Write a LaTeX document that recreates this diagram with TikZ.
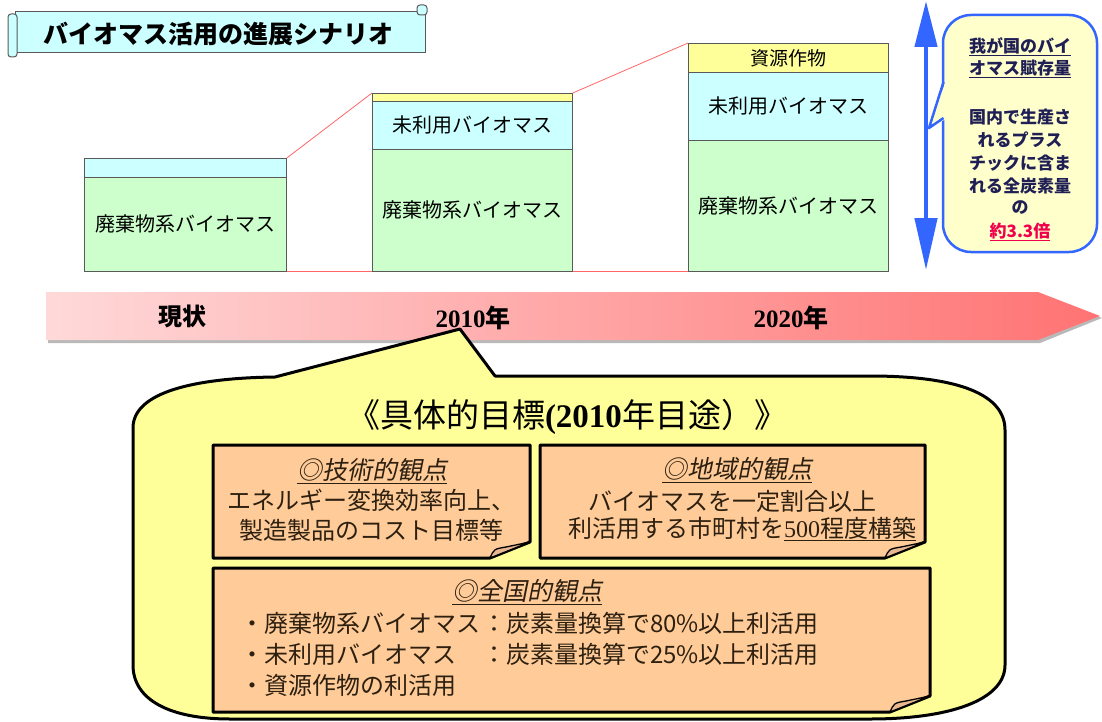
\documentclass[tikz,border=0pt]{standalone}
\usepackage{fontspec}
\setmainfont{Noto Sans CJK JP}
\newfontfamily\jpit{Noto Sans CJK JP}[FakeSlant=0.2]
\newfontfamily\serifnum{Liberation Serif}
\usetikzlibrary{arrows.meta}
\definecolor{cyanfill}{HTML}{CCFFFF}
\definecolor{greenfill}{HTML}{CCFFCC}
\definecolor{yellowband}{HTML}{FFFF99}
\definecolor{calloutyellow}{HTML}{FFFF99}
\definecolor{orangefill}{HTML}{FFCC99}
\definecolor{flapfill}{HTML}{E8B690}
\definecolor{bluearrow}{HTML}{3366FF}
\definecolor{lightyellow}{HTML}{FFFFCC}
\definecolor{redline}{HTML}{FF6666}
\definecolor{pinkL}{HTML}{FFD9D9}
\definecolor{pinkR}{HTML}{FF7373}
\definecolor{navytext}{HTML}{1F1F55}
\definecolor{hotred}{HTML}{F0004C}
\definecolor{browntext}{HTML}{2E2010}
\newcommand\foldbox[4]{%
  \draw[obox] (#1,#2) -- (#3,#2) -- (#3,#4-16) -- (#3-40,#4) -- (#1,#4) -- cycle;
  \filldraw[fill=flapfill, draw=black, line width=1.3pt, line join=round]
    (#3-40,#4) .. controls (#3-36,#4-9) .. (#3-24,#4-11) -- (#3,#4-16) -- cycle;}
\begin{document}
\begin{tikzpicture}[x=1pt,y=-1pt,
  band/.style={draw=gray!70!black, line width=0.8pt, anchor=north west, inner sep=0pt,
    font=\fontsize{20}{24}\selectfont},
  obox/.style={draw=black, line width=3pt, fill=orangefill, line join=round},
  otitle/.style={font=\fontsize{25}{28}\selectfont\jpit, text=browntext, inner sep=0pt},
  obody/.style={font=\fontsize{24}{28}\selectfont, text=browntext, inner sep=0pt},
  ctext/.style={font=\fontsize{17}{20}\selectfont\bfseries, text=navytext, inner sep=0pt},
  tlabel/.style={font=\fontsize{25}{28}\selectfont\bfseries, inner sep=0pt},
  conn/.style={draw=redline, line width=0.8pt}]
\useasboundingbox (0,0) rectangle (1102,722);
\fill[white] (0,0) rectangle (1102,722);

% title banner
\draw[gray!70!black, line width=1pt, fill=cyanfill] (15,12) rectangle (425,53);
\draw[gray!70!black, line width=1pt, fill=cyanfill, rounded corners=3pt] (8,14) rectangle (17,57);
\draw[gray!70!black, line width=1pt, fill=cyanfill, rounded corners=3pt] (417,5) rectangle (427,15);
\node[font=\fontsize{25}{28}\selectfont\bfseries, inner sep=0pt] (title) at (218,34) {バイオマス活用の進展シナリオ};

% top stacked boxes
\node[band, fill=cyanfill, minimum width=202pt, minimum height=19pt] (b1c) at (84,158) {};
\node[band, fill=greenfill, minimum width=202pt, minimum height=94pt] (b1g) at (84,177) {廃棄物系バイオマス};

\node[band, fill=yellowband, minimum width=200pt, minimum height=8pt] (b2y) at (372,93) {};
\node[band, fill=cyanfill, minimum width=200pt, minimum height=48pt] (b2c) at (372,101) {未利用バイオマス};
\node[band, fill=greenfill, minimum width=200pt, minimum height=122pt] (b2g) at (372,149) {廃棄物系バイオマス};

\node[band, fill=yellowband, minimum width=200pt, minimum height=29pt, font=\fontsize{19}{22}\selectfont] (b3y) at (688,43) {資源作物};
\node[band, fill=cyanfill, minimum width=200pt, minimum height=68pt] (b3c) at (688,72) {未利用バイオマス};
\node[band, fill=greenfill, minimum width=200pt, minimum height=131pt] (b3g) at (688,140) {廃棄物系バイオマス};

\draw[conn] (b1c.north east) -- (b2y.north west);
\draw[conn] (b1g.south east) -- (b2g.south west);
\draw[conn] (b2y.north east) -- (b3y.north west);
\draw[conn] (b2g.south east) -- (b3g.south west);

% blue double arrow
\coordinate (ba1) at (926,1);
\coordinate (ba2) at (926,270);
\draw[bluearrow, line width=4.5pt, {Triangle[width=22pt,length=46pt]}-{Triangle[width=22pt,length=52pt]}] (ba1) -- (ba2);

% right callout
\draw[bluearrow, line width=2.5pt, fill=lightyellow, rounded corners=28pt] (943,15) rectangle (1097,252);
\fill[lightyellow] (946,80) -- (929,128) -- (946,119) -- cycle;
\draw[bluearrow, line width=2.5pt, line join=round] (943.5,82) -- (929,128) -- (943.5,118);
\node[ctext] (c1) at (1020,47) {\underline{我が国のバイ}};
\node[ctext] (c2) at (1020,69) {\underline{オマス賦存量}};
\node[ctext] (c3) at (1020,117) {国内で生産さ};
\node[ctext] (c4) at (1020,140) {れるプラス};
\node[ctext] (c5) at (1020,163) {チックに含ま};
\node[ctext] (c6) at (1020,186) {れる全炭素量};
\node[ctext] (c7) at (1020,208) {の};
\node[ctext, text=hotred] (c8) at (1020,232) {\underline{約3.3倍}};

% timeline arrow
\fill[gray!55] (48,295) -- (1040,295) -- (1102,318) -- (1040,343) -- (48,343) -- cycle;
\shade[left color=pinkL, right color=pinkR] (46,292) -- (1038,292) -- (1100,316) -- (1038,340) -- (46,340) -- cycle;
\node[tlabel, font=\fontsize{24}{28}\selectfont\bfseries] (t0) at (182,316) {現状};
\node[tlabel] (t1) at (473,318) {{\serifnum 2010}年};
\node[tlabel] (t2) at (791,318) {{\serifnum 2020}年};

% big callout
\draw[black, line width=3pt, fill=calloutyellow, line join=round]
  (133,428) .. controls (133,392) and (195,378) .. (275,377) -- (460,329) -- (495,376)
  -- (870,376) .. controls (960,376) and (1005,395) .. (1005,430)
  -- (1005,665) .. controls (1005,700) and (950,719) .. (870,719)
  -- (230,719) .. controls (170,719) and (133,700) .. (133,665) -- cycle;
\node[font=\fontsize{33}{36}\selectfont, inner sep=0pt] (goal) at (567,417)
  {《具体的目標{\serifnum\bfseries (2010}年目途）》};

% orange boxes
\foldbox{213}{445}{530}{558}
\node[otitle] (a0) at (372,471) {\underline{◎技術的観点}};
\node[obody] (a1) at (371,500) {エネルギー変換効率向上、};
\node[obody] (a2) at (371,530) {製造製品のコスト目標等};

\foldbox{540}{445}{925}{558}
\node[otitle] (bb0) at (737,470) {\underline{◎地域的観点}};
\node[obody] (bb1) at (732,501) {バイオマスを一定割合以上};
\node[obody] (bb2) at (742,529) {利活用する市町村を\underline{{\serifnum 500}程度構築}};

\foldbox{213}{568}{930}{712}
\node[otitle] (cc0) at (527,592) {\underline{◎全国的観点}};
\node[obody, anchor=west] (cc1) at (240,623) {・廃棄物系バイオマス};
\node[obody, anchor=west] (cc1r) at (482,623) {：炭素量換算で80\%以上利活用};
\node[obody, anchor=west] (cc2) at (240,654) {・未利用バイオマス};
\node[obody, anchor=west] (cc2r) at (482,654) {：炭素量換算で25\%以上利活用};
\node[obody, anchor=west] (cc3) at (240,685) {・資源作物の利活用};
\end{tikzpicture}
\end{document}
